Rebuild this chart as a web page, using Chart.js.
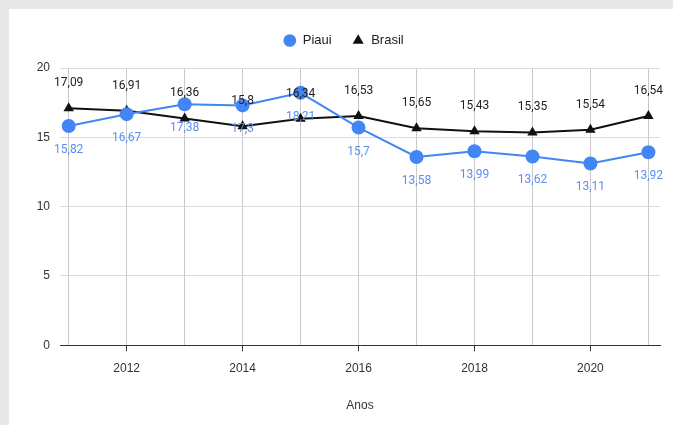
<!DOCTYPE html>
<html>
<head>
<meta charset="utf-8">
<script src="https://cdn.jsdelivr.net/npm/chart.js@4.4.1/dist/chart.umd.min.js"></script>
<style>
  html, body { margin: 0; padding: 0; background: #e8e8e8; width: 673px; height: 425px; overflow: hidden; }
  .card { position: absolute; left: 9px; top: 9px; width: 664px; height: 416px; background: #fff; }
</style>
</head>
<body>
<div class="card"><canvas id="chart" width="664" height="416"></canvas></div>
<script>
const years = [2011, 2012, 2013, 2014, 2015, 2016, 2017, 2018, 2019, 2020, 2021];
const piaui = [15.82, 16.67, 17.38, 17.3, 18.21, 15.7, 13.58, 13.99, 13.62, 13.11, 13.92];
const brasil = [17.09, 16.91, 16.36, 15.8, 16.34, 16.53, 15.65, 15.43, 15.35, 15.54, 16.54];
const yTicks = [0, 5, 10, 15, 20];

const fmt = v => String(v).replace('.', ',');
const axisFont = { family: 'Liberation Sans', size: 12 };

// value labels: Brasil above the point, Piaui below
const valueLabels = {
    id: 'valueLabels',
    afterDatasetsDraw(chart) {
        const ctx = chart.ctx;
        ctx.save();
        ctx.font = '12px Roboto';
        ctx.textAlign = 'center';
        ctx.textBaseline = 'middle';
        chart.data.datasets.forEach((ds, i) => {
            const meta = chart.getDatasetMeta(i);
            meta.data.forEach((pt, j) => {
                const above = ds.label === 'Brasil';
                ctx.fillStyle = above ? '#222' : '#5a8ff0';
                ctx.fillText(fmt(ds.data[j].y), pt.x, pt.y + (above ? -25 : 24));
            });
        });
        ctx.restore();
    }
};

// extra room under the legend, and nudge it a bit to the right
const legendGap = {
    id: 'legendGap',
    beforeUpdate(chart) {
        const lg = chart.legend;
        if (!lg || lg._gapPatched) return;
        const fit = lg.fit;
        lg.fit = function() { fit.call(this); this.height += 11; };
        lg._gapPatched = true;
    },
    afterLayout(chart) {
        chart.legend.left += 9;
        chart.legend.right += 9;
    }
};

const ctx = document.getElementById('chart').getContext('2d');
new Chart(ctx, {
    type: 'line',
    data: {
        datasets: [{
            label: 'Piaui',
            data: years.map((y, i) => ({ x: y, y: piaui[i] })),
            borderColor: '#4285f4',
            backgroundColor: '#4285f4',
            borderWidth: 2,
            pointStyle: 'circle',
            pointRadius: 7,
            pointBorderWidth: 0,
            tension: 0
        }, {
            label: 'Brasil',
            data: years.map((y, i) => ({ x: y, y: brasil[i] })),
            borderColor: '#111',
            backgroundColor: '#111',
            borderWidth: 2,
            pointStyle: 'triangle',
            pointRadius: 6,
            pointBorderWidth: 0,
            tension: 0
        }]
    },
    options: {
        responsive: false,
        animation: false,
        layout: { padding: { left: 0, right: 13, top: 5, bottom: 8 } },
        plugins: {
            tooltip: { enabled: false },
            legend: {
                position: 'top',
                labels: {
                    usePointStyle: true,
                    boxHeight: 9,
                    padding: 20,
                    color: '#222',
                    font: { family: 'Liberation Sans', size: 13 }
                }
            }
        },
        scales: {
            x: {
                type: 'linear',
                min: 2010.85,
                max: 2021.2,
                afterBuildTicks: s => { s.ticks = years.map(v => ({ value: v })); },
                ticks: {
                    autoSkip: false,
                    maxRotation: 0,
                    padding: 10,
                    color: '#333',
                    font: axisFont,
                    callback: v => (v % 2 === 0 ? String(v) : '')
                },
                grid: {
                    color: '#c9c9c9',
                    tickLength: 6,
                    tickColor: c => (c.tick && c.tick.value % 2 === 0 ? '#333' : 'rgba(0,0,0,0)')
                },
                border: { color: '#333', width: 1 },
                title: {
                    display: true,
                    text: 'Anos',
                    color: '#333',
                    font: axisFont,
                    padding: { top: 13 }
                }
            },
            y: {
                min: 0,
                max: 20,
                afterBuildTicks: s => { s.ticks = yTicks.map(v => ({ value: v })); },
                afterFit: s => { s.width = 51; },
                ticks: {
                    padding: 10,
                    color: '#333',
                    font: axisFont
                },
                grid: { color: '#dcdcdc', drawTicks: false },
                border: { display: false }
            }
        }
    },
    plugins: [valueLabels, legendGap]
});
</script>
</body>
</html>
